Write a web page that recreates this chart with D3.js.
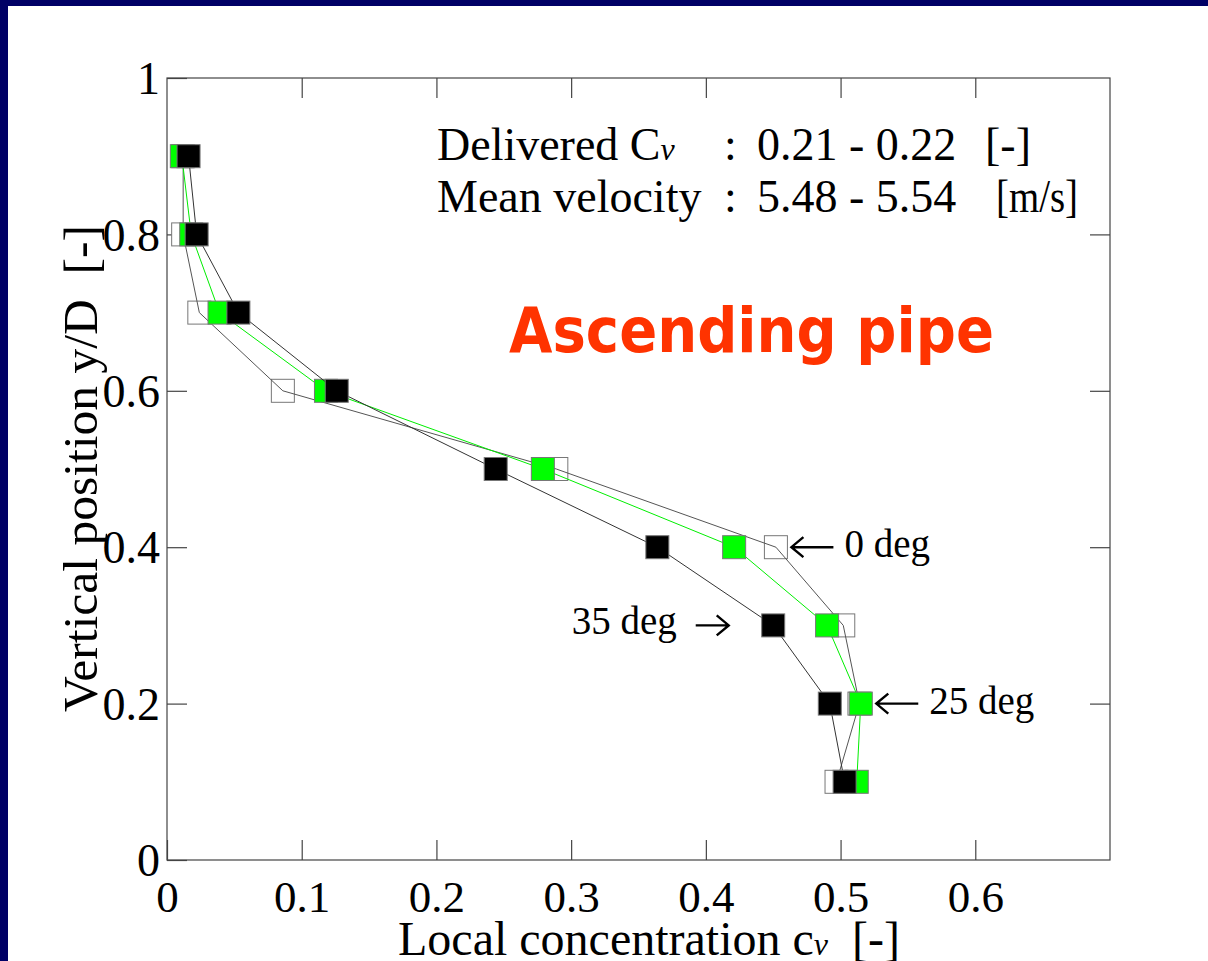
<!DOCTYPE html>
<html>
<head>
<meta charset="utf-8">
<script src="https://cdn.jsdelivr.net/npm/d3@7/dist/d3.min.js"></script>
<style>
  body { margin: 0; background: #fff; }
  svg text { font-family: "Liberation Serif", "Times New Roman", serif; fill: #000; }
</style>
</head>
<body>
<svg id="chart" width="1208" height="961"></svg>
<script>
// vertical positions y/D where the probe was read
const levels = [0.9, 0.8, 0.7, 0.6, 0.5, 0.4, 0.3, 0.2, 0.1];

// local concentration per inclination
const deg0 = [0.012, 0.012, 0.024, 0.086, 0.289, 0.452, 0.502, 0.514, 0.497];
const deg25 = [0.011, 0.018, 0.039, 0.118, 0.279, 0.421, 0.490, 0.515, 0.512];
const deg35 = [0.016, 0.022, 0.053, 0.126, 0.244, 0.364, 0.450, 0.492, 0.503];

const xTicks = [0, 0.1, 0.2, 0.3, 0.4, 0.5, 0.6];
const yTicks = [0, 0.2, 0.4, 0.6, 0.8, 1];

const MARGIN = { left: 167, top: 78, right: 1110, bottom: 860 };
const TICK = 20;
const BOX = 23;

const svg = d3.select('#chart');

// slide frame
svg.append('rect').attr('width', 1208).attr('height', 961).attr('fill', '#000066');
svg.append('rect').attr('x', 8).attr('y', 6).attr('width', 1200).attr('height', 955).attr('fill', '#fff');

const x = d3.scaleLinear().domain([0, 0.7]).range([MARGIN.left, MARGIN.right]);
const y = d3.scaleLinear().domain([0, 1]).range([MARGIN.bottom, MARGIN.top]);

function styleAxis (g) {
  g.select('.domain').remove();
  g.selectAll('.tick line').attr('stroke', '#444').attr('stroke-width', 1.2);
}

// bottom axis with labels
svg.append('g')
  .attr('transform', 'translate(0,' + MARGIN.bottom + ')')
  .call(d3.axisBottom(x).tickValues(xTicks).tickSizeInner(-TICK).tickSizeOuter(0).tickFormat(d3.format('')))
  .call(styleAxis)
  .call(g => g.selectAll('.tick text')
    .attr('y', 52).attr('dy', null)
    .attr('font-size', 45).attr('font-family', 'Liberation Serif').attr('fill', '#000'));

// top axis (ticks only)
svg.append('g')
  .attr('transform', 'translate(0,' + MARGIN.top + ')')
  .call(d3.axisTop(x).tickValues(xTicks.slice(1)).tickSizeInner(-TICK).tickSizeOuter(0).tickFormat(''))
  .call(styleAxis);

// left axis with labels
svg.append('g')
  .attr('transform', 'translate(' + MARGIN.left + ',0)')
  .call(d3.axisLeft(y).tickValues(yTicks).tickSizeInner(-TICK).tickSizeOuter(0).tickFormat(d3.format('')))
  .call(styleAxis)
  .call(g => g.selectAll('.tick text')
    .attr('x', -7).attr('dy', '0.34em')
    .attr('font-size', 46).attr('font-family', 'Liberation Serif').attr('fill', '#000'));

// right axis (ticks only)
svg.append('g')
  .attr('transform', 'translate(' + MARGIN.right + ',0)')
  .call(d3.axisRight(y).tickValues(yTicks.slice(1, -1)).tickSizeInner(-TICK).tickSizeOuter(0).tickFormat(''))
  .call(styleAxis);

svg.append('rect')
  .attr('x', MARGIN.left).attr('y', MARGIN.top)
  .attr('width', MARGIN.right - MARGIN.left).attr('height', MARGIN.bottom - MARGIN.top)
  .attr('fill', 'none').attr('stroke', '#444').attr('stroke-width', 1.2);

// series, drawn in this order so black sits on top
const series = [
  { values: deg0, line: '#555', fill: 'none' },
  { values: deg25, line: '#00ee00', fill: '#00ff00' },
  { values: deg35, line: '#333', fill: '#000' }
];

const line = d3.line().x(d => x(d.v)).y(d => y(d.l));

series.forEach(s => {
  let pts = levels.map((l, i) => ({ l, v: s.values[i] }));
  let g = svg.append('g');
  if (s.fill !== 'none') {
    g.append('path').datum(pts).attr('d', line)
      .attr('fill', 'none').attr('stroke', s.line).attr('stroke-width', 1);
  }
  g.selectAll('rect').data(pts).enter().append('rect')
    .attr('x', d => x(d.v) - BOX / 2).attr('y', d => y(d.l) - BOX / 2)
    .attr('width', BOX).attr('height', BOX)
    .attr('fill', s.fill === 'none' ? '#fff' : s.fill)
    .attr('stroke', '#777').attr('stroke-width', 1);
  if (s.fill === 'none') {
    g.append('path').datum(pts).attr('d', line)
      .attr('fill', 'none').attr('stroke', s.line).attr('stroke-width', 1);
  }
});

// axis titles
let xTitle = svg.append('text').attr('x', 398).attr('y', 955).attr('font-size', 48)
  .attr('textLength', 502).attr('lengthAdjust', 'spacingAndGlyphs');
xTitle.append('tspan').text('Local concentration c');
xTitle.append('tspan').attr('font-style', 'italic').attr('font-size', 32).text('v');
xTitle.append('tspan').text('\u00a0\u00a0[-]');

svg.append('text')
  .attr('transform', 'translate(97,712) rotate(-90)')
  .attr('font-size', 48)
  .attr('textLength', 487).attr('lengthAdjust', 'spacingAndGlyphs')
  .text('Vertical position y/D\u00a0\u00a0[-]');

// conditions block
function infoLine (yy, label, italic, value, unit, unitX, unitW) {
  let t = svg.append('text').attr('y', yy).attr('font-size', 46);
  t.append('tspan').attr('x', 437).text(label);
  if (italic) {
    t.append('tspan').attr('font-style', 'italic').attr('font-size', 32).text(italic);
  }
  t.append('tspan').attr('x', 724).text(':');
  t.append('tspan').attr('x', 757).text(value);
  let u = t.append('tspan').attr('x', unitX).text(unit);
  if (unitW) {
    u.attr('textLength', unitW).attr('lengthAdjust', 'spacingAndGlyphs');
  }
}
infoLine(160, 'Delivered C', 'v', '0.21 - 0.22', '[-]', 985, null);
infoLine(212, 'Mean velocity', null, '5.48 - 5.54', '[m/s]', 996, 82);

svg.append('text')
  .attr('x', 509).attr('y', 352)
  .attr('font-weight', 'bold').attr('font-size', 63)
  .attr('textLength', 485).attr('lengthAdjust', 'spacingAndGlyphs')
  .style('font-family', '"DejaVu Sans", Verdana, sans-serif')
  .style('fill', '#ff3300')
  .text('Ascending pipe');

// angle annotations
const notes = [
  { text: '0 deg', level: 0.4, v: deg0[5], side: 'right' },
  { text: '25 deg', level: 0.2, v: deg25[7], side: 'right' },
  { text: '35 deg', level: 0.3, v: deg35[6], side: 'left' }
];

function arrow (x1, x2, yy) {
  let dir = Math.sign(x2 - x1);
  svg.append('path')
    .attr('d', 'M' + x1 + ',' + yy + 'H' + x2 +
      'M' + (x2 - dir * 12) + ',' + (yy - 10) + 'L' + x2 + ',' + yy + 'L' + (x2 - dir * 12) + ',' + (yy + 10))
    .attr('fill', 'none').attr('stroke', '#000').attr('stroke-width', 2.4);
}

notes.forEach(n => {
  let cy = y(n.level);
  if (n.side === 'right') {
    let x0 = x(n.v) + BOX / 2 + 4;
    arrow(x0 + 42, x0, cy);
    svg.append('text').attr('x', x0 + 53).attr('y', cy + 10).attr('font-size', 39).text(n.text);
  } else {
    let x0 = x(n.v) - BOX / 2 - 33;
    arrow(x0 - 33, x0, cy);
    svg.append('text').attr('x', x0 - 52).attr('y', cy + 9).attr('font-size', 39)
      .attr('text-anchor', 'end').text(n.text);
  }
});
</script>
</body>
</html>
